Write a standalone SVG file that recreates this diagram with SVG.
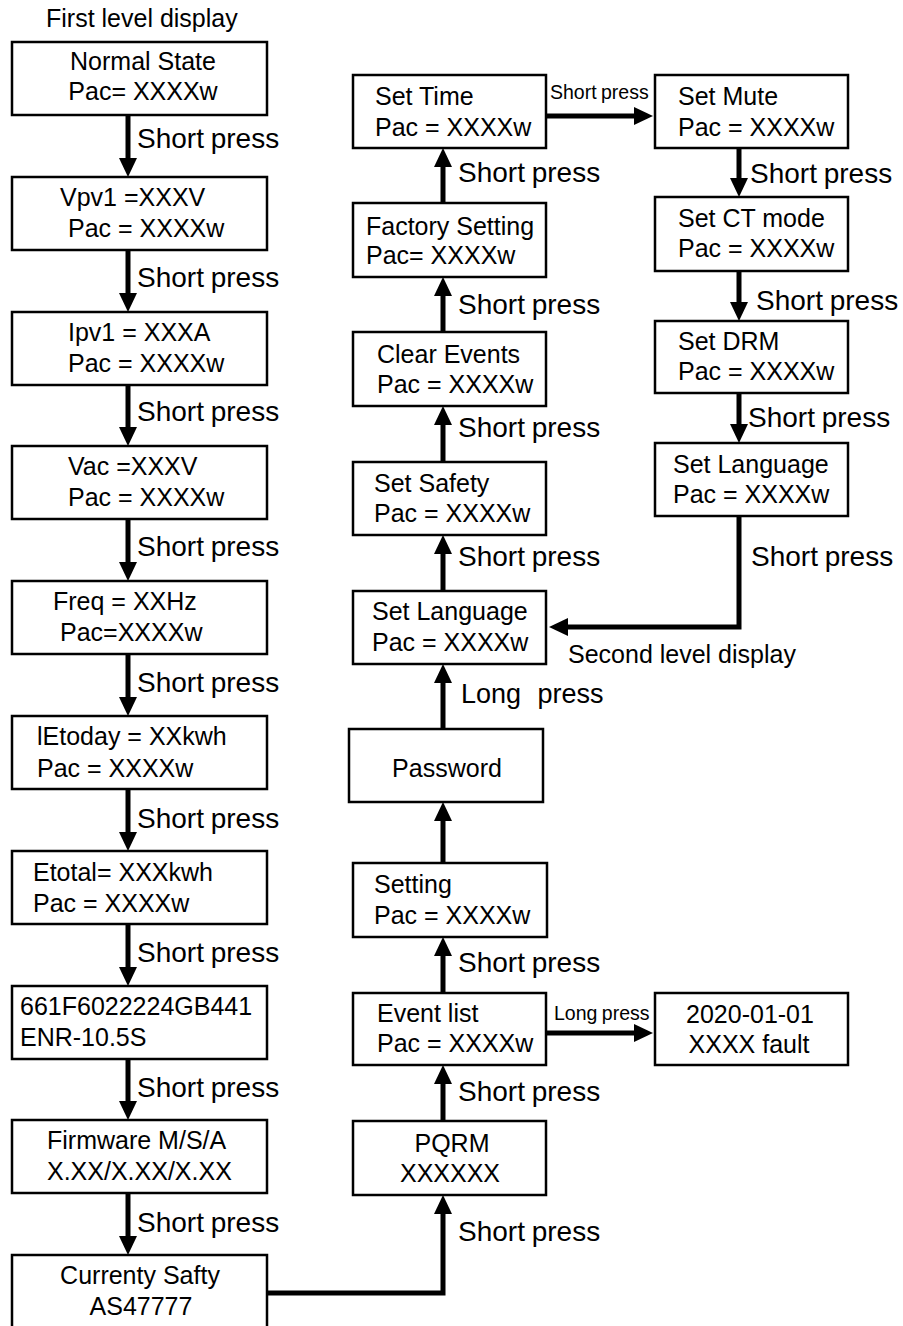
<svg xmlns="http://www.w3.org/2000/svg" width="903" height="1326" viewBox="0 0 903 1326">
<style>
.box{fill:#fff;stroke:#000;stroke-width:2.5}
text{font-family:"Liberation Sans",Arial,sans-serif;fill:#000}
.t{font-size:25px}
.c{text-anchor:middle}
.lbl{font-size:28px;word-spacing:-1px}
.sm{font-size:19.5px;word-spacing:-1px}
.conn{fill:none;stroke:#000;stroke-width:5;marker-end:url(#ah)}
</style>
<defs>
<marker id="ah" markerUnits="userSpaceOnUse" markerWidth="19" markerHeight="18" viewBox="0 0 19 18" refX="1" refY="9" orient="auto"><path d="M0,0 L19,9 L0,18 z" fill="#000"/></marker>
</defs>
<rect width="903" height="1326" fill="#fff"/>
<text class="t" x="46" y="27">First level display</text>
<text class="t" x="568" y="663">Second level display</text>

<g id="connectors">
<path class="conn" d="M128,115 V159"/>
<path class="conn" d="M128,250 V294"/>
<path class="conn" d="M128,385 V428"/>
<path class="conn" d="M128,519 V563"/>
<path class="conn" d="M128,654 V698"/>
<path class="conn" d="M128,789 V833"/>
<path class="conn" d="M128,924 V968"/>
<path class="conn" d="M128,1059 V1102"/>
<path class="conn" d="M128,1193 V1237"/>
<path class="conn" d="M267,1293 H443 V1213"/>
<path class="conn" d="M443,1121 V1083"/>
<path class="conn" d="M443,993 V955"/>
<path class="conn" d="M443,863 V820"/>
<path class="conn" d="M443,729 V682"/>
<path class="conn" d="M443,591 V553"/>
<path class="conn" d="M443,462 V424"/>
<path class="conn" d="M443,332 V295"/>
<path class="conn" d="M443,203 V166"/>
<path class="conn" d="M546,116 H635"/>
<path class="conn" d="M739,148 V179"/>
<path class="conn" d="M739,271 V303"/>
<path class="conn" d="M739,393 V425"/>
<path class="conn" d="M739,516 V627 H567"/>
<path class="conn" d="M546,1033 H635"/>
<text class="lbl" x="137" y="148">Short press</text>
<text class="lbl" x="137" y="287">Short press</text>
<text class="lbl" x="137" y="421">Short press</text>
<text class="lbl" x="137" y="556">Short press</text>
<text class="lbl" x="137" y="692">Short press</text>
<text class="lbl" x="137" y="828">Short press</text>
<text class="lbl" x="137" y="962">Short press</text>
<text class="lbl" x="137" y="1097">Short press</text>
<text class="lbl" x="137" y="1232">Short press</text>
<text class="lbl" x="458" y="182">Short press</text>
<text class="lbl" x="458" y="314">Short press</text>
<text class="lbl" x="458" y="437">Short press</text>
<text class="lbl" x="458" y="566">Short press</text>
<text class="lbl" x="461" y="703" style="font-size:27px;word-spacing:9px">Long press</text>
<text class="lbl" x="458" y="972">Short press</text>
<text class="lbl" x="458" y="1101">Short press</text>
<text class="lbl" x="458" y="1241">Short press</text>
<text class="lbl" x="750" y="183">Short press</text>
<text class="lbl" x="756" y="310">Short press</text>
<text class="lbl" x="748" y="427">Short press</text>
<text class="lbl" x="751" y="566">Short press</text>
<text class="sm" x="550" y="99">Short press</text>
<text class="sm" x="554" y="1020">Long press</text>
</g>

<g id="n-normal"><rect class="box" x="12" y="42" width="255" height="73"/><text class="t c" x="143" y="70">Normal State</text><text class="t c" x="143" y="100">Pac= XXXXw</text></g>
<g id="n-vpv1"><rect class="box" x="12" y="177" width="255" height="73"/><text class="t" x="60" y="206">Vpv1 =XXXV</text><text class="t" x="68" y="237">Pac = XXXXw</text></g>
<g id="n-ipv1"><rect class="box" x="12" y="312" width="255" height="73"/><text class="t" x="68" y="341">Ipv1 = XXXA</text><text class="t" x="68" y="372">Pac = XXXXw</text></g>
<g id="n-vac"><rect class="box" x="12" y="446" width="255" height="73"/><text class="t" x="68" y="475">Vac =XXXV</text><text class="t" x="68" y="506">Pac = XXXXw</text></g>
<g id="n-freq"><rect class="box" x="12" y="581" width="255" height="73"/><text class="t" x="53" y="610">Freq = XXHz</text><text class="t" x="60" y="641">Pac=XXXXw</text></g>
<g id="n-etoday"><rect class="box" x="12" y="716" width="255" height="73"/><text class="t" x="37" y="745">lEtoday = XXkwh</text><text class="t" x="37" y="777">Pac = XXXXw</text></g>
<g id="n-etotal"><rect class="box" x="12" y="851" width="255" height="73"/><text class="t" x="33" y="881">Etotal= XXXkwh</text><text class="t" x="33" y="912">Pac = XXXXw</text></g>
<g id="n-serial"><rect class="box" x="12" y="986" width="255" height="73"/><text class="t" x="20" y="1015">661F6022224GB441</text><text class="t" x="20" y="1046">ENR-10.5S</text></g>
<g id="n-firmware"><rect class="box" x="12" y="1120" width="255" height="73"/><text class="t" x="47" y="1149">Firmware M/S/A</text><text class="t" x="47" y="1180">X.XX/X.XX/X.XX</text></g>
<g id="n-safety-cur"><rect class="box" x="12" y="1255" width="255" height="75"/><text class="t c" x="140" y="1284">Currenty Safty</text><text class="t c" x="141" y="1315">AS47777</text></g>

<g id="n-pqrm"><rect class="box" x="353" y="1121" width="193" height="74"/><text class="t c" x="452" y="1152">PQRM</text><text class="t c" x="450" y="1182">XXXXXX</text></g>
<g id="n-event"><rect class="box" x="353" y="993" width="193" height="72"/><text class="t" x="377" y="1022">Event list</text><text class="t" x="377" y="1052">Pac = XXXXw</text></g>
<g id="n-fault"><rect class="box" x="655" y="993" width="193" height="72"/><text class="t c" x="750" y="1023">2020-01-01</text><text class="t c" x="749" y="1053">XXXX fault</text></g>
<g id="n-setting"><rect class="box" x="353" y="863" width="194" height="74"/><text class="t" x="374" y="893">Setting</text><text class="t" x="374" y="924">Pac = XXXXw</text></g>
<g id="n-password"><rect class="box" x="349" y="729" width="194" height="73"/><text class="t c" x="447" y="777">Password</text></g>
<g id="n-lang1"><rect class="box" x="353" y="591" width="193" height="73"/><text class="t" x="372" y="620">Set Language</text><text class="t" x="372" y="651">Pac = XXXXw</text></g>
<g id="n-safety"><rect class="box" x="353" y="462" width="193" height="73"/><text class="t" x="374" y="492">Set Safety</text><text class="t" x="374" y="522">Pac = XXXXw</text></g>
<g id="n-clear"><rect class="box" x="353" y="332" width="193" height="74"/><text class="t" x="377" y="363">Clear Events</text><text class="t" x="377" y="393">Pac = XXXXw</text></g>
<g id="n-factory"><rect class="box" x="353" y="203" width="193" height="74"/><text class="t" x="366" y="235">Factory Setting</text><text class="t" x="366" y="264">Pac= XXXXw</text></g>
<g id="n-time"><rect class="box" x="353" y="75" width="193" height="73"/><text class="t" x="375" y="105">Set Time</text><text class="t" x="375" y="136">Pac = XXXXw</text></g>
<g id="n-mute"><rect class="box" x="655" y="75" width="193" height="73"/><text class="t" x="678" y="105">Set Mute</text><text class="t" x="678" y="136">Pac = XXXXw</text></g>
<g id="n-ct"><rect class="box" x="655" y="197" width="193" height="74"/><text class="t" x="678" y="227">Set CT mode</text><text class="t" x="678" y="257">Pac = XXXXw</text></g>
<g id="n-drm"><rect class="box" x="655" y="321" width="193" height="72"/><text class="t" x="678" y="350">Set DRM</text><text class="t" x="678" y="380">Pac = XXXXw</text></g>
<g id="n-lang2"><rect class="box" x="655" y="443" width="193" height="73"/><text class="t" x="673" y="473">Set Language</text><text class="t" x="673" y="503">Pac = XXXXw</text></g>
</svg>
